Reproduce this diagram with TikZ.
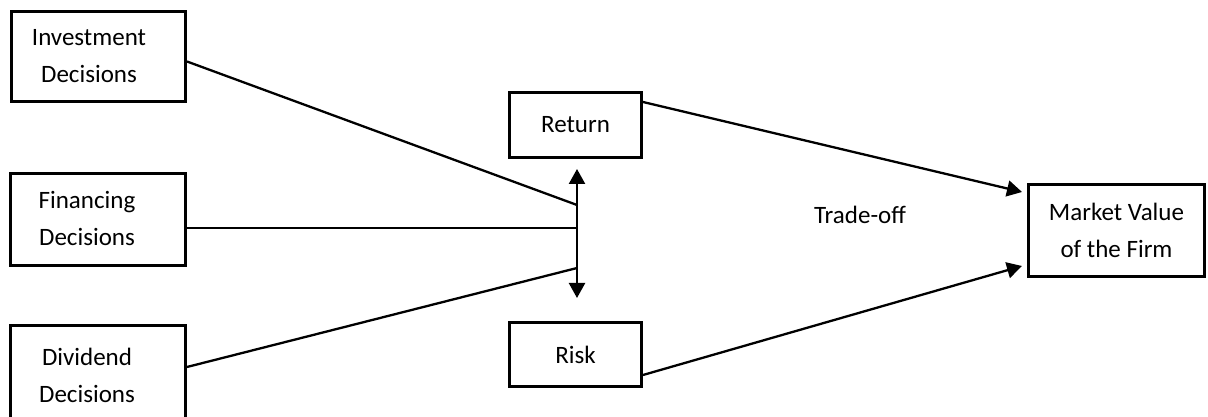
\documentclass[tikz,border=0pt]{standalone}
\usepackage{fontspec}
\setmainfont{Carlito}
\usetikzlibrary{arrows.meta}
\begin{document}
\begin{tikzpicture}[x=1pt,y=1pt,
  box/.style={draw,line width=3pt,rectangle,inner sep=0pt},
  txt/.style={align=center,font=\fontsize{25}{37}\selectfont,inner sep=0pt},
  conn/.style={line width=2.3pt},
  tip/.tip={Triangle[length=15pt,width=16pt]},
  arr/.style={line width=2.3pt,-tip}]
\clip (0,0) rectangle (1208,417);
\fill[white] (0,0) rectangle (1208,417);
% left boxes
\node[box,minimum width=174pt,minimum height=90pt] (inv) at (98.5,360.5) {};
\node[txt] (invt) at (89,361) {Investment\\Decisions};
\node[box,minimum width=175pt,minimum height=92pt] (fin) at (98,197.5) {};
\node[txt] (fint) at (87,199) {Financing\\Decisions};
\node[box,minimum width=175pt,minimum height=100pt] (div) at (98,41) {};
\node[txt] (divt) at (87,42) {Dividend\\Decisions};
% middle boxes
\node[box,minimum width=132pt,minimum height=65pt,txt] (ret) at (575.5,292) {Return};
\node[box,minimum width=132pt,minimum height=64pt,txt] (risk) at (575.5,62.5) {Risk};
% right box
\node[box,minimum width=176pt,minimum height=92pt,txt] (mkt) at (1116.5,186.5) {Market Value\\of the Firm};
\node[txt] (trade) at (860,202) {Trade-off};
% junction points
\coordinate (vtop) at (577,248);
\coordinate (vbot) at (577,119);
\coordinate (j1) at (577,212);
\coordinate (j2) at (577,189);
\coordinate (j3) at (577,149);
\draw[line width=2.3pt,tip-tip] (vbot) -- (vtop);
\draw[conn] ([yshift=-5pt]inv.east) -- (j1);
\draw[conn] ([yshift=-8.5pt]fin.east) -- (j2);
\draw[conn] ([yshift=9pt]div.east) -- (j3);
\draw[arr] ([yshift=-11pt]ret.north east) -- ([xshift=-5pt,yshift=38.5pt]mkt.west);
\draw[arr] ([yshift=13pt]risk.south east) -- ([xshift=-5pt,yshift=-35.5pt]mkt.west);
\end{tikzpicture}
\end{document}
